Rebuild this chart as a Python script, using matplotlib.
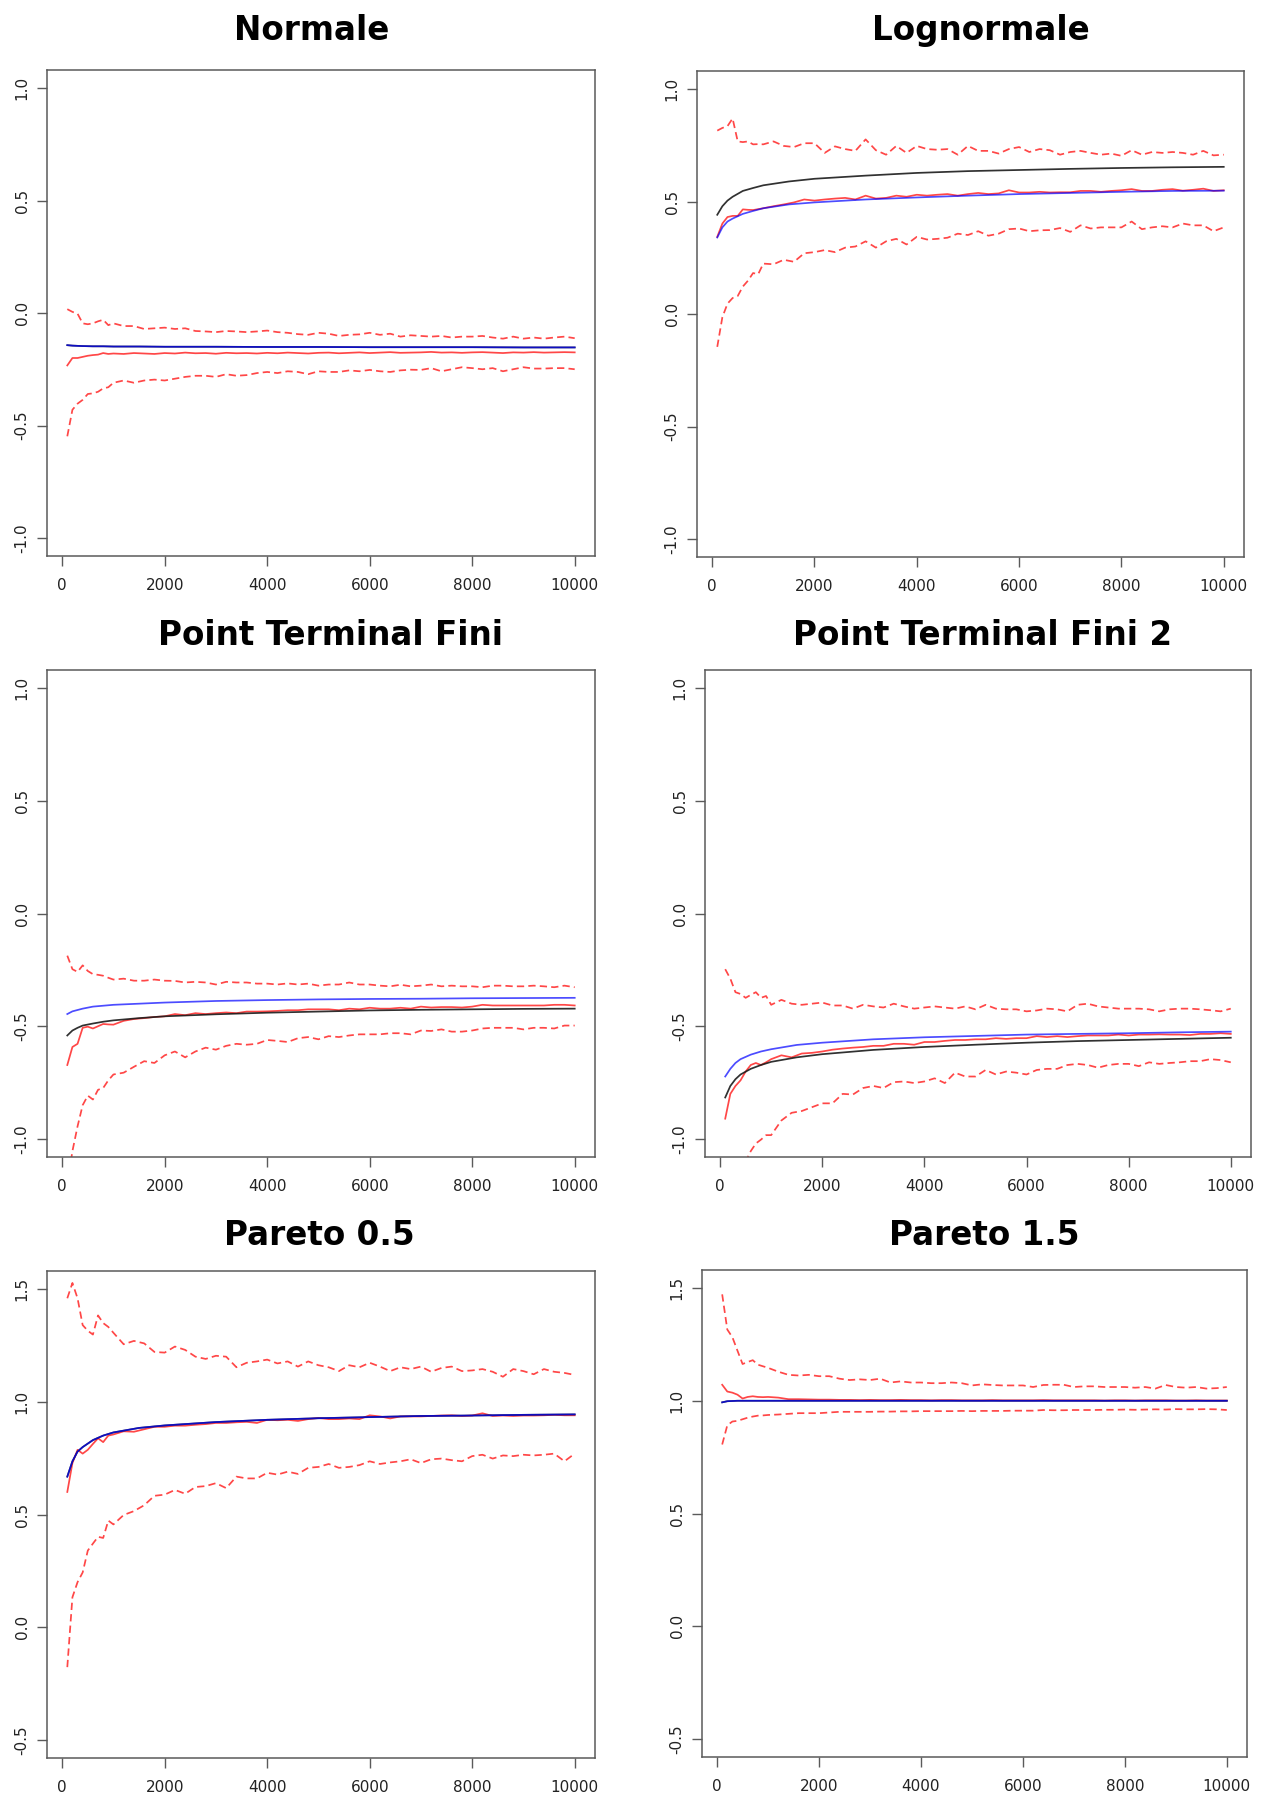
import matplotlib.pyplot as plt

plt.rcParams['axes.unicode_minus'] = False
plt.rcParams['font.family'] = 'DejaVu Sans'

W, H = 1261, 1800

# sample sizes (x) : 100..1000 by 100, then 1200..10000 by 200
noisy_x = list(range(100, 1001, 100)) + list(range(1200, 10001, 200))
smooth_x = [100, 200, 300, 400, 600, 800, 1000, 1500, 2000, 3000,
            4000, 5000, 6000, 7000, 8000, 9000, 10000]

# ---- Normale
normale_upper = [0.017, 0.005, -0.003, -0.046, -0.05, -0.046, -0.037, -0.03, -0.054, -0.046,
                 -0.058, -0.058, -0.071, -0.068, -0.065,
                 -0.071, -0.068, -0.08, -0.082, -0.085,
                 -0.08, -0.082, -0.085, -0.082, -0.078,
                 -0.085, -0.088, -0.094, -0.097, -0.088,
                 -0.092, -0.102, -0.097, -0.095, -0.088,
                 -0.097, -0.092, -0.105, -0.099, -0.102,
                 -0.105, -0.102, -0.109, -0.105, -0.105,
                 -0.102, -0.109, -0.114, -0.105, -0.114,
                 -0.109, -0.114, -0.109, -0.105, -0.112]
normale_est = [-0.233, -0.2, -0.2, -0.195, -0.19, -0.187, -0.185, -0.178, -0.182, -0.18,
               -0.182, -0.178, -0.18, -0.182, -0.178,
               -0.18, -0.176, -0.179, -0.178, -0.181,
               -0.177, -0.179, -0.178, -0.18, -0.177,
               -0.179, -0.176, -0.178, -0.18, -0.177,
               -0.176, -0.179, -0.177, -0.175, -0.178,
               -0.176, -0.174, -0.177, -0.176, -0.175,
               -0.173, -0.176, -0.175, -0.177, -0.175,
               -0.174, -0.176, -0.178, -0.175, -0.176,
               -0.174, -0.176, -0.175, -0.174, -0.175]
normale_lower = [-0.548, -0.43, -0.403, -0.386, -0.36, -0.357, -0.35, -0.335, -0.33, -0.31,
                 -0.3, -0.31, -0.3, -0.296, -0.3,
                 -0.292, -0.284, -0.279, -0.279, -0.284,
                 -0.272, -0.279, -0.276, -0.267, -0.262,
                 -0.267, -0.259, -0.262, -0.272, -0.259,
                 -0.262, -0.262, -0.255, -0.259, -0.253,
                 -0.259, -0.262, -0.255, -0.252, -0.253,
                 -0.245, -0.259, -0.25, -0.241, -0.245,
                 -0.25, -0.245, -0.259, -0.25, -0.241,
                 -0.247, -0.247, -0.245, -0.245, -0.25]
normale_black = [-0.143, -0.145, -0.146, -0.147, -0.148, -0.148, -0.149, -0.149, -0.15, -0.15,
                 -0.151, -0.151, -0.152, -0.152, -0.152, -0.153, -0.153]
normale_blue = [-0.143, -0.145, -0.146, -0.147, -0.148, -0.148, -0.149, -0.149, -0.15, -0.15,
                -0.151, -0.151, -0.152, -0.152, -0.152, -0.153, -0.153]

# ---- Lognormale
logn_upper = [0.815, 0.827, 0.835, 0.869, 0.767, 0.764, 0.767, 0.754, 0.755, 0.754,
              0.767, 0.747, 0.742, 0.759, 0.759,
              0.716, 0.745, 0.733, 0.725, 0.776,
              0.728, 0.708, 0.747, 0.716, 0.747,
              0.733, 0.730, 0.733, 0.708, 0.747,
              0.725, 0.725, 0.713, 0.733, 0.742,
              0.720, 0.733, 0.728, 0.708, 0.720,
              0.725, 0.716, 0.708, 0.713, 0.703,
              0.728, 0.708, 0.720, 0.716, 0.720,
              0.716, 0.708, 0.725, 0.705, 0.708]
logn_est = [0.343, 0.402, 0.431, 0.436, 0.436, 0.465, 0.463, 0.462, 0.466, 0.47,
            0.479, 0.487, 0.496, 0.509, 0.504,
            0.509, 0.513, 0.516, 0.509, 0.526,
            0.513, 0.516, 0.526, 0.521, 0.53,
            0.526, 0.53, 0.533, 0.526, 0.533,
            0.538, 0.533, 0.536, 0.55, 0.54,
            0.54, 0.543, 0.54, 0.541, 0.541,
            0.547, 0.547, 0.543, 0.547, 0.55,
            0.555, 0.547, 0.547, 0.552, 0.555,
            0.548, 0.552, 0.557, 0.547, 0.55]
logn_lower = [-0.146, -0.014, 0.046, 0.071, 0.08, 0.122, 0.148, 0.182, 0.177, 0.224,
              0.221, 0.241, 0.232, 0.27, 0.275,
              0.284, 0.275, 0.295, 0.3, 0.323,
              0.295, 0.323, 0.334, 0.309, 0.343,
              0.331, 0.334, 0.339, 0.357, 0.351,
              0.368, 0.348, 0.357, 0.377, 0.38,
              0.368, 0.372, 0.373, 0.382, 0.365,
              0.394, 0.38, 0.385, 0.385, 0.385,
              0.411, 0.377, 0.385, 0.39, 0.385,
              0.402, 0.394, 0.394, 0.368, 0.385]
logn_black = [0.441, 0.479, 0.504, 0.521, 0.547, 0.56, 0.572, 0.589, 0.601, 0.615,
              0.627, 0.635, 0.64, 0.645, 0.649, 0.652, 0.654]
logn_blue = [0.34, 0.385, 0.411, 0.424, 0.445, 0.458, 0.47, 0.487, 0.496, 0.509,
             0.518, 0.526, 0.533, 0.538, 0.543, 0.547, 0.548]

# ---- Point Terminal Fini
ptf_upper = [-0.187, -0.247, -0.259, -0.23, -0.255, -0.269, -0.272, -0.276, -0.285, -0.293,
             -0.289, -0.298, -0.298, -0.293, -0.298,
             -0.299, -0.306, -0.303, -0.306, -0.315,
             -0.303, -0.306, -0.306, -0.311, -0.311,
             -0.315, -0.31, -0.315, -0.311, -0.32,
             -0.315, -0.315, -0.306, -0.315, -0.315,
             -0.32, -0.323, -0.316, -0.323, -0.32,
             -0.315, -0.323, -0.32, -0.323, -0.323,
             -0.327, -0.32, -0.32, -0.323, -0.323,
             -0.32, -0.323, -0.327, -0.32, -0.327]
ptf_est = [-0.672, -0.592, -0.578, -0.507, -0.502, -0.51, -0.5, -0.49, -0.492, -0.493,
           -0.476, -0.468, -0.464, -0.459, -0.456,
           -0.446, -0.451, -0.442, -0.446, -0.442,
           -0.439, -0.442, -0.435, -0.435, -0.434,
           -0.432, -0.429, -0.429, -0.425, -0.425,
           -0.425, -0.429, -0.422, -0.425, -0.418,
           -0.422, -0.422, -0.418, -0.422, -0.413,
           -0.417, -0.415, -0.415, -0.417, -0.413,
           -0.405, -0.408, -0.408, -0.408, -0.408,
           -0.408, -0.408, -0.405, -0.405, -0.408]
ptf_lower = [-1.2, -1.054, -0.944, -0.85, -0.808, -0.825, -0.782, -0.774, -0.74, -0.714,
             -0.706, -0.68, -0.655, -0.663, -0.629,
             -0.612, -0.638, -0.612, -0.595, -0.604,
             -0.587, -0.578, -0.582, -0.578, -0.561,
             -0.565, -0.57, -0.553, -0.548, -0.558,
             -0.544, -0.548, -0.541, -0.536, -0.536,
             -0.536, -0.531, -0.531, -0.536, -0.519,
             -0.521, -0.514, -0.524, -0.524, -0.519,
             -0.51, -0.507, -0.507, -0.507, -0.514,
             -0.507, -0.507, -0.51, -0.497, -0.497]
ptf_black = [-0.541, -0.519, -0.507, -0.497, -0.488, -0.48, -0.474, -0.464, -0.456, -0.447,
             -0.44, -0.435, -0.43, -0.427, -0.425, -0.423, -0.422]
ptf_blue = [-0.446, -0.434, -0.428, -0.422, -0.413, -0.409, -0.405, -0.4, -0.395, -0.388,
            -0.384, -0.381, -0.379, -0.378, -0.376, -0.375, -0.374]

# ---- Point Terminal Fini 2
ptf2_upper = [-0.247, -0.289, -0.349, -0.357, -0.374, -0.361, -0.349, -0.374, -0.366, -0.405,
              -0.383, -0.4, -0.405, -0.4, -0.395,
              -0.408, -0.408, -0.422, -0.405, -0.412,
              -0.417, -0.4, -0.412, -0.422, -0.417,
              -0.412, -0.417, -0.422, -0.412, -0.425,
              -0.405, -0.422, -0.425, -0.425, -0.434,
              -0.43, -0.422, -0.425, -0.434, -0.405,
              -0.4, -0.412, -0.417, -0.422, -0.422,
              -0.422, -0.425, -0.434, -0.425, -0.422,
              -0.422, -0.425, -0.429, -0.434, -0.422]
ptf2_est = [-0.91, -0.8, -0.765, -0.74, -0.701, -0.672, -0.663, -0.672, -0.66, -0.646,
            -0.629, -0.638, -0.621, -0.618, -0.612,
            -0.604, -0.599, -0.595, -0.592, -0.587,
            -0.587, -0.578, -0.578, -0.582, -0.57,
            -0.57, -0.565, -0.561, -0.561, -0.558,
            -0.558, -0.553, -0.556, -0.553, -0.553,
            -0.544, -0.548, -0.544, -0.548, -0.544,
            -0.541, -0.541, -0.541, -0.537, -0.541,
            -0.537, -0.537, -0.536, -0.537, -0.537,
            -0.539, -0.534, -0.534, -0.531, -0.534]
ptf2_lower = [-1.5, -1.35, -1.25, -1.17, -1.1, -1.054, -1.02, -1.003, -0.983, -0.983,
              -0.918, -0.884, -0.876, -0.859, -0.842,
              -0.842, -0.8, -0.803, -0.774, -0.765,
              -0.774, -0.748, -0.745, -0.752, -0.745,
              -0.731, -0.752, -0.706, -0.723, -0.723,
              -0.694, -0.714, -0.701, -0.706, -0.714,
              -0.694, -0.689, -0.689, -0.672, -0.667,
              -0.672, -0.684, -0.672, -0.667, -0.667,
              -0.677, -0.66, -0.667, -0.663, -0.66,
              -0.655, -0.655, -0.646, -0.65, -0.66]
ptf2_black = [-0.816, -0.765, -0.735, -0.714, -0.689, -0.672, -0.658, -0.638, -0.624, -0.605,
              -0.592, -0.582, -0.573, -0.566, -0.561, -0.556, -0.551]
ptf2_blue = [-0.723, -0.689, -0.663, -0.646, -0.626, -0.612, -0.602, -0.583, -0.573, -0.558,
             -0.549, -0.543, -0.537, -0.534, -0.531, -0.527, -0.524]

# ---- Pareto 0.5
par05_upper = [1.459, 1.527, 1.459, 1.34, 1.315, 1.298, 1.383, 1.349, 1.332, 1.306,
               1.255, 1.27, 1.259, 1.221, 1.218,
               1.245, 1.23, 1.2, 1.19, 1.204,
               1.2, 1.153, 1.173, 1.179, 1.187,
               1.17, 1.179, 1.156, 1.179, 1.162,
               1.153, 1.136, 1.162, 1.153, 1.173,
               1.156, 1.136, 1.153, 1.145, 1.156,
               1.133, 1.15, 1.156, 1.136, 1.139,
               1.145, 1.133, 1.111, 1.145, 1.136,
               1.122, 1.145, 1.133, 1.128, 1.119]
par05_est = [0.6, 0.728, 0.787, 0.77, 0.787, 0.813, 0.838, 0.821, 0.85, 0.855,
             0.869, 0.867, 0.878, 0.889, 0.889,
             0.894, 0.894, 0.898, 0.901, 0.906,
             0.906, 0.909, 0.911, 0.906, 0.92,
             0.918, 0.92, 0.915, 0.923, 0.928,
             0.923, 0.923, 0.926, 0.923, 0.94,
             0.935, 0.926, 0.935, 0.935, 0.935,
             0.937, 0.939, 0.94, 0.937, 0.939,
             0.949, 0.937, 0.939, 0.937, 0.939,
             0.939, 0.94, 0.942, 0.94, 0.94]
par05_lower = [-0.177, 0.133, 0.2, 0.243, 0.34, 0.371, 0.401, 0.396, 0.473, 0.456,
               0.498, 0.515, 0.541, 0.583, 0.588,
               0.609, 0.592, 0.622, 0.626, 0.639,
               0.617, 0.668, 0.66, 0.66, 0.685,
               0.677, 0.69, 0.68, 0.707, 0.711,
               0.724, 0.707, 0.711, 0.719, 0.736,
               0.724, 0.731, 0.736, 0.745, 0.728,
               0.745, 0.748, 0.741, 0.736, 0.759,
               0.765, 0.748, 0.762, 0.759, 0.765,
               0.762, 0.765, 0.77, 0.736, 0.77]
par05_black = [0.668, 0.736, 0.779, 0.799, 0.83, 0.85, 0.864, 0.884, 0.895, 0.91,
               0.92, 0.927, 0.932, 0.937, 0.939, 0.942, 0.944]
par05_blue = [0.668, 0.736, 0.779, 0.799, 0.83, 0.85, 0.864, 0.884, 0.895, 0.91,
              0.92, 0.927, 0.932, 0.937, 0.939, 0.942, 0.944]

# ---- Pareto 1.5
par15_upper = [1.472, 1.316, 1.282, 1.222, 1.163, 1.172, 1.18, 1.16, 1.153, 1.146,
               1.129, 1.115, 1.112, 1.115, 1.109,
               1.109, 1.098, 1.092, 1.095, 1.092,
               1.098, 1.081, 1.086, 1.081, 1.081,
               1.078, 1.078, 1.081, 1.078, 1.068,
               1.073, 1.07, 1.068, 1.068, 1.068,
               1.061, 1.07, 1.071, 1.071, 1.061,
               1.064, 1.064, 1.061, 1.061, 1.061,
               1.058, 1.061, 1.054, 1.07, 1.061,
               1.058, 1.061, 1.054, 1.056, 1.061]
par15_est = [1.071, 1.041, 1.036, 1.027, 1.01, 1.017, 1.02, 1.017, 1.016, 1.017,
             1.014, 1.007, 1.007, 1.006, 1.005,
             1.005, 1.004, 1.004, 1.003, 1.004,
             1.003, 1.003, 1.004, 1.003, 1.003,
             1.002, 1.003, 1.003, 1.002, 1.002,
             1.002, 1.003, 1.002, 1.002, 1.002,
             1.002, 1.003, 1.002, 1.002, 1.002,
             1.002, 1.002, 1.001, 1.002, 1.002,
             1.001, 1.002, 1.002, 1.002, 1.001,
             1.001, 1.002, 1.001, 1.001, 1.001]
par15_lower = [0.806, 0.891, 0.908, 0.911, 0.918, 0.925, 0.93, 0.934, 0.935, 0.937,
               0.939, 0.942, 0.945, 0.945, 0.945,
               0.948, 0.951, 0.951, 0.951, 0.951,
               0.952, 0.952, 0.953, 0.953, 0.954,
               0.954, 0.954, 0.954, 0.955, 0.954,
               0.955, 0.955, 0.955, 0.956, 0.956,
               0.956, 0.959, 0.958, 0.958, 0.959,
               0.959, 0.959, 0.96, 0.96, 0.961,
               0.96, 0.961, 0.962, 0.961, 0.963,
               0.962, 0.962, 0.963, 0.962, 0.959]
par15_black = [0.993, 0.998, 0.999, 1.0, 1.0, 1.0, 1.0, 1.0, 1.0, 1.0,
               1.0, 1.0, 1.0, 1.0, 1.0, 1.0, 1.0]
par15_blue = [0.993, 0.998, 0.999, 1.0, 1.0, 1.0, 1.0, 1.0, 1.0, 1.0,
              1.0, 1.0, 1.0, 1.0, 1.0, 1.0, 1.0]

titles = ["Normale", "Lognormale", "Point Terminal Fini", "Point Terminal Fini 2",
          "Pareto 0.5", "Pareto 1.5"]
series = [
    (normale_upper, normale_est, normale_lower, normale_black, normale_blue),
    (logn_upper, logn_est, logn_lower, logn_black, logn_blue),
    (ptf_upper, ptf_est, ptf_lower, ptf_black, ptf_blue),
    (ptf2_upper, ptf2_est, ptf2_lower, ptf2_black, ptf2_blue),
    (par05_upper, par05_est, par05_lower, par05_black, par05_blue),
    (par15_upper, par15_est, par15_lower, par15_black, par15_blue),
]
y_ranges = [(-1.0, 1.0)] * 4 + [(-0.5, 1.5)] * 2
x_ticks = [0, 2000, 4000, 6000, 8000, 10000]

# axes boxes in pixels: left, top, right, bottom
boxes = [(47, 70, 595, 556), (697, 71, 1244, 557),
         (47, 670, 595, 1157), (705, 670, 1251, 1157),
         (47, 1271, 595, 1758), (702, 1270, 1247, 1757)]
# title ink centre x and baseline y
title_pos = [(312, 40), (981, 40), (331, 645), (983, 645), (319, 1245), (984, 1245)]

fig = plt.figure(figsize=(W / 100, H / 100), dpi=100)
fig.patch.set_facecolor('white')

red = (1.0, 0.0, 0.0, 0.72)
blue = (0.0, 0.0, 1.0, 0.7)
black = (0.1, 0.1, 0.1, 0.9)
box_col = '#5a5a5a'
lw = 1.25

for i in range(6):
    l, t, r, b = boxes[i]
    ax = fig.add_axes([l / W, 1 - b / H, (r - l) / W, (b - t) / H])
    up, est, lo, blk, blu = series[i]

    ax.plot(noisy_x, up, color=red, lw=lw, dashes=(4.2, 2.4))
    ax.plot(noisy_x, lo, color=red, lw=lw, dashes=(4.2, 2.4))
    ax.plot(noisy_x, est, color=red, lw=lw)
    ax.plot(smooth_x, blk, color=black, lw=lw)
    ax.plot(smooth_x, blu, color=blue, lw=lw)

    y0, y1 = y_ranges[i]
    pad_y = 0.04 * (y1 - y0)
    ax.set_ylim(y0 - pad_y, y1 + pad_y)
    pad_x = 0.04 * (10000 - 100)
    ax.set_xlim(100 - pad_x, 10000 + pad_x)

    ax.set_xticks(x_ticks)
    ax.set_xticklabels([str(v) for v in x_ticks])
    yt = [y0 + 0.5 * k for k in range(5)]
    ax.set_yticks(yt)
    ax.set_yticklabels(['%.1f' % v for v in yt], rotation=90, va='center')

    ax.tick_params(axis='both', length=7.5, width=1.0, color=box_col,
                   labelsize=11, labelcolor='#222222')
    ax.tick_params(axis='x', pad=8)
    ax.tick_params(axis='y', pad=5)
    for s in ax.spines.values():
        s.set_color(box_col)
        s.set_linewidth(1.1)

    tx, ty = title_pos[i]
    fig.text(tx / W, 1 - ty / H, titles[i], ha='center', va='baseline',
             fontsize=23.5, fontweight='bold', color='black')

fig.savefig('out.png', dpi=100, facecolor='white')
